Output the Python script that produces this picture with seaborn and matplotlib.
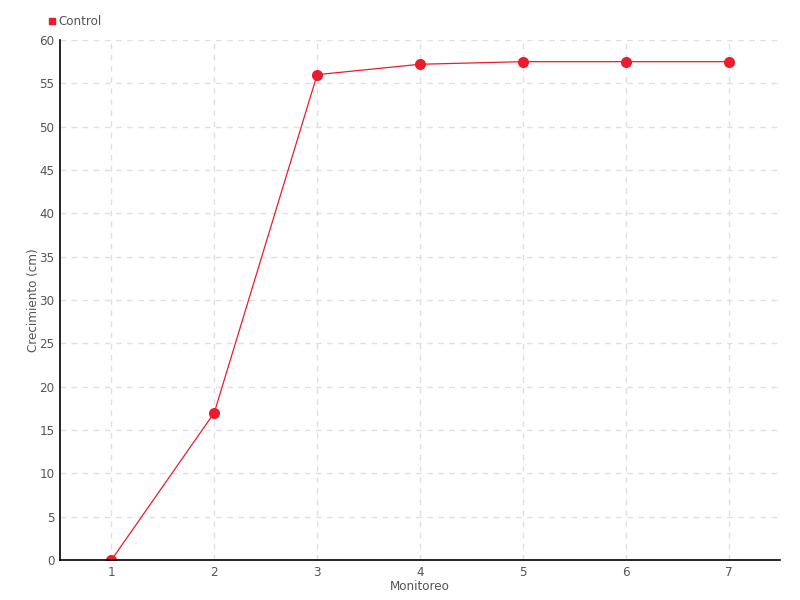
import matplotlib
matplotlib.use("Agg")
import matplotlib.pyplot as plt
import seaborn as sns
import pandas as pd
from matplotlib.lines import Line2D

monitoreo = [1, 2, 3, 4, 5, 6, 7]
control = [0, 17, 56, 57.2, 57.5, 57.5, 57.5]
yticks = [0, 5, 10, 15, 20, 25, 30, 35, 40, 45, 50, 55, 60]

df = pd.DataFrame({"Monitoreo": monitoreo, "Control": control})

sns.set_style("white")
plt.rcParams['font.family'] = ['DejaVu Sans']
plt.rcParams['font.stretch'] = 'condensed'

color = '#ea1c2d'
fs = 9.5
fig = plt.figure(figsize=(8, 6), dpi=100)
ax = fig.add_axes([0.075, 1 - 560 / 600, 0.9, 520 / 600])

sns.lineplot(data=df, x="Monitoreo", y="Control", ax=ax, color=color,
             linewidth=0.9, marker='o', markersize=8, markeredgewidth=0,
             markerfacecolor=color)

ax.set_xlim(0.5, 7.5)
ax.set_ylim(0, 60)
ax.set_xticks(monitoreo)
ax.set_xticklabels([str(m) for m in monitoreo])
ax.set_yticks(yticks)
ax.grid(True, color='#e0e0e0', linestyle=(0, (4, 4)), linewidth=1)
ax.set_axisbelow(True)
for s in ['top', 'right']:
    ax.spines[s].set_visible(False)
for s in ['left', 'bottom']:
    ax.spines[s].set_color('black')
    ax.spines[s].set_linewidth(1.2)
ax.tick_params(axis='both', length=4, width=1, color='black', labelsize=fs,
               labelcolor='#555555', pad=0, direction='out')
ax.set_xlabel("Monitoreo", fontsize=fs, color='#555555', va='center')
ax.xaxis.set_label_coords(0.5, -26 / 520)
ax.set_ylabel("Crecimiento (cm)", fontsize=fs, color='#555555', va='center')
ax.yaxis.set_label_coords(-27 / 720, 0.5)

handle = Line2D([], [], marker='s', color=color, linestyle='None', markersize=4.5)
fig.legend([handle], ["Control"], loc='upper left', bbox_to_anchor=(0.052, 0.983),
           frameon=False, fontsize=fs, handletextpad=0.05, borderaxespad=0,
           labelcolor='#555555', handlelength=0.8)

fig.savefig("out.png", dpi=100)
